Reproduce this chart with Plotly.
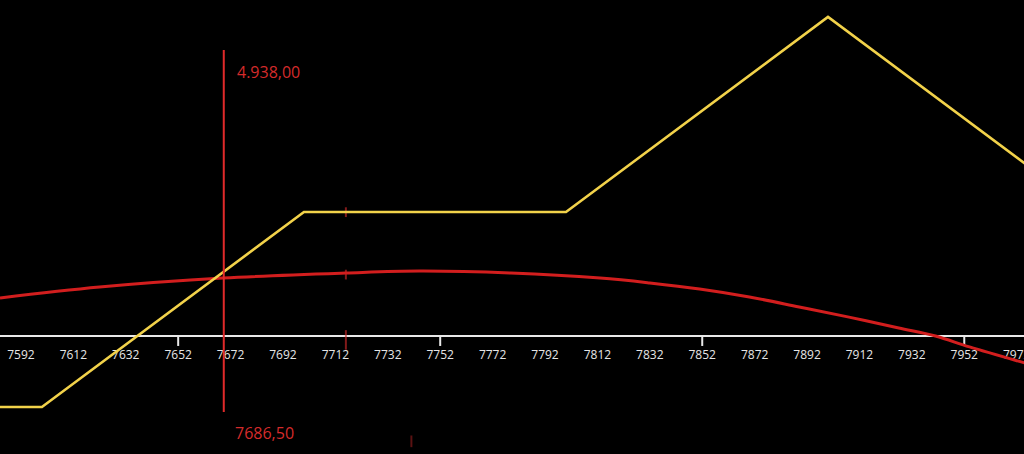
import plotly.graph_objects as go

# payoff at expiry (yellow)
payoff_x = [7580, 7600, 7700, 7800, 7900, 7980]
payoff_y = [-36.4, -36.4, 63.6, 63.6, 163.6, 83.6]

# payoff today (red curve)
today_x = [7584, 7622, 7669, 7716, 7744, 7779, 7813, 7832, 7851, 7870, 7889, 7908, 7927, 7941, 7954, 7975]
today_y = [19.5, 25.1, 29.7, 32.3, 33.3, 32.3, 29.7, 27.2, 24.1, 20.0, 14.9, 9.7, 4.1, 0.0, -5.6, -13.8]

# cursor
cursor_x = 7669.4
cursor_top = 146.7
cursor_bottom = -39.0
cursor_value = '4.938,00'
cursor_price = '7686,50'

# axis
tick_values = [7592, 7612, 7632, 7652, 7672, 7692, 7712, 7732, 7752, 7772,
               7792, 7812, 7832, 7852, 7872, 7892, 7912, 7932, 7952, 7972]
major_ticks = [7652, 7752, 7852, 7952]
strike_x = 7716

fig = go.Figure()

# major tick marks under the zero line
tx, ty = [], []
for t in major_ticks:
    tx += [t, t, None]
    ty += [0, -5.1, None]
fig.add_trace(go.Scatter(x=tx, y=ty, mode='lines',
                         line=dict(color='#e8e8e8', width=2),
                         hoverinfo='skip', showlegend=False))

# tick labels as text so the last one gets cut at the plot edge (as in the original)
fig.add_trace(go.Scatter(x=tick_values, y=[-10.2] * len(tick_values), mode='text',
                         text=[str(v) for v in tick_values], textposition='middle center',
                         textfont=dict(color='#e6e6e6', size=12, family='Open Sans'),
                         cliponaxis=True, hoverinfo='skip', showlegend=False))

# faint dashed strike marker
fig.add_trace(go.Scatter(x=[strike_x, strike_x, None, strike_x, strike_x, None, strike_x, strike_x],
                         y=[66, 61, None, 34, 29, None, 3, -7],
                         mode='lines', line=dict(color='rgba(200,40,40,0.65)', width=2),
                         hoverinfo='skip', showlegend=False))
fig.add_trace(go.Scatter(x=[7741, 7741], y=[-51, -57], mode='lines',
                         line=dict(color='rgba(150,30,30,0.6)', width=2),
                         hoverinfo='skip', showlegend=False))

fig.add_trace(go.Scatter(x=today_x, y=today_y, mode='lines',
                         line=dict(color='#d21e1e', width=3, shape='spline'),
                         showlegend=False))
fig.add_trace(go.Scatter(x=payoff_x, y=payoff_y, mode='lines',
                         line=dict(color='#f2d24a', width=2.6),
                         showlegend=False))

# cursor line
fig.add_trace(go.Scatter(x=[cursor_x, cursor_x], y=[cursor_top, cursor_bottom], mode='lines',
                         line=dict(color='#e02a2a', width=2),
                         hoverinfo='skip', showlegend=False))

fig.add_annotation(x=cursor_x, y=cursor_top, text=cursor_value, showarrow=False,
                   xanchor='left', yanchor='middle', xshift=11, yshift=-22,
                   font=dict(color='#d42b2b', size=16, family='Open Sans'))
fig.add_annotation(x=cursor_x, y=cursor_bottom, text=cursor_price, showarrow=False,
                   xanchor='left', yanchor='middle', xshift=9, yshift=-21,
                   font=dict(color='#d42b2b', size=16, family='Open Sans'))

fig.update_layout(
    width=1024, height=454,
    margin=dict(l=0, r=0, t=0, b=0),
    paper_bgcolor='black', plot_bgcolor='black',
    xaxis=dict(range=[7584, 7974.8], showgrid=False, zeroline=False,
               showline=False, showticklabels=False, ticks=''),
    yaxis=dict(range=[-60.5, 172.3], showgrid=False, showticklabels=False,
               zeroline=True, zerolinecolor='#e8e8e8', zerolinewidth=2),
)

page_js = "document.body.style.margin='0';document.body.style.background='black';"

fig.write_html("out.html", config={'displayModeBar': False}, post_script=page_js)
